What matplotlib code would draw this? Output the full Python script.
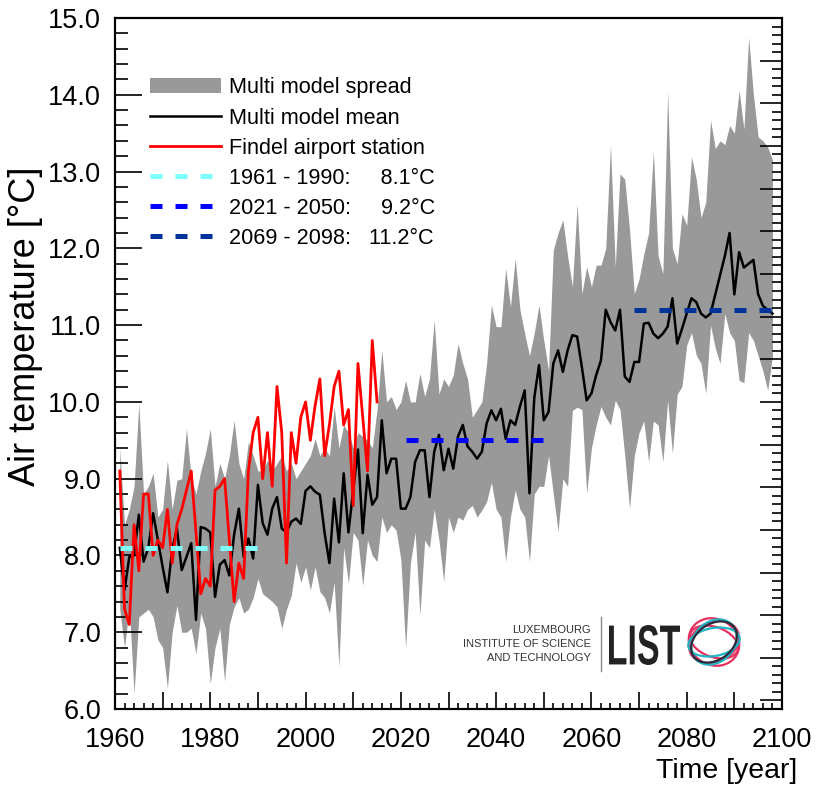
import matplotlib.pyplot as plt
import matplotlib.transforms as mtransforms
from matplotlib import font_manager
from matplotlib.font_manager import FontProperties
from matplotlib.lines import Line2D
from matplotlib.patches import Patch, Ellipse, PathPatch
from matplotlib.textpath import TextPath
from matplotlib.ticker import MultipleLocator, FuncFormatter

# multi model ensemble, annual mean air temperature (deg C)
years = list(range(1961, 2099))
model_mean = [
    8.10, 7.55, 7.98, 8.00, 8.53, 7.92, 8.10, 8.55, 8.20, 7.85,
    7.52, 8.08, 8.35, 7.81, 7.98, 8.16, 7.16, 8.37, 8.35, 8.30,
    7.46, 7.88, 7.94, 7.74, 8.27, 8.61, 7.98, 8.22, 7.96, 8.92,
    8.42, 8.27, 8.61, 8.76, 8.35, 8.30, 8.44, 8.48, 8.41, 8.84,
    8.90, 8.83, 8.79, 8.29, 7.90, 8.74, 8.17, 9.07, 8.30, 8.85,
    9.38, 8.29, 9.05, 8.66, 8.76, 9.76, 9.07, 9.26, 9.26, 8.61,
    8.61, 8.76, 9.22, 9.37, 9.37, 8.76, 9.35, 9.57, 9.11, 9.39,
    9.13, 9.55, 9.70, 9.42, 9.35, 9.26, 9.35, 9.72, 9.89, 9.76,
    9.91, 9.52, 9.76, 9.70, 9.94, 10.15, 8.81, 10.05, 10.48, 9.76,
    9.87, 10.50, 10.67, 10.39, 10.67, 10.87, 10.85, 10.45, 10.02, 10.11,
    10.35, 10.54, 11.20, 11.04, 10.93, 11.20, 10.33, 10.26, 10.52, 10.52,
    11.02, 11.03, 10.89, 10.83, 10.89, 10.98, 11.35, 10.76, 10.95, 11.15,
    11.35, 11.30, 11.15, 11.10, 11.15, 11.40, 11.65, 11.90, 12.20, 11.40,
    11.95, 11.75, 11.80, 11.85, 11.40, 11.25, 11.20, 11.15,
]
model_max = [
    9.40, 8.40, 8.60, 8.90, 9.98, 8.80, 8.90, 9.07, 8.50, 8.60,
    9.24, 8.60, 8.98, 9.00, 9.65, 9.00, 8.80, 9.10, 9.33, 9.65,
    8.90, 9.20, 9.00, 9.30, 9.76, 9.20, 9.00, 9.48, 9.30, 9.10,
    9.10, 9.24, 9.10, 9.20, 9.30, 9.10, 9.20, 9.00, 9.10, 9.20,
    9.30, 9.52, 9.30, 9.40, 9.30, 9.94, 9.40, 9.70, 9.60, 9.40,
    9.60, 9.55, 9.50, 9.40, 9.90, 10.67, 10.00, 10.07, 9.90, 10.00,
    10.28, 10.00, 10.00, 10.37, 10.07, 10.30, 11.07, 10.10, 10.30, 10.20,
    10.35, 10.76, 10.50, 10.30, 9.80, 9.90, 10.00, 10.50, 11.26, 10.98,
    10.98, 11.74, 11.24, 11.87, 11.20, 10.89, 10.60, 10.90, 11.26, 10.80,
    10.41, 11.98, 12.20, 12.37, 11.90, 11.50, 12.58, 11.41, 11.76, 11.50,
    11.78, 11.78, 12.00, 13.34, 11.76, 12.97, 12.90, 12.24, 11.41, 11.60,
    11.93, 12.20, 13.26, 11.90, 11.67, 14.04, 12.00, 11.80, 12.45, 12.30,
    13.19, 12.90, 12.40, 12.60, 13.67, 13.30, 13.40, 13.35, 13.60, 13.50,
    14.06, 13.55, 14.75, 14.00, 13.45, 13.40, 13.32, 13.15,
]
model_min = [
    7.30, 6.80, 7.33, 6.20, 7.20, 7.25, 7.30, 7.20, 6.90, 6.80,
    6.27, 7.00, 7.35, 7.00, 7.00, 7.05, 6.72, 7.25, 7.05, 6.33,
    6.80, 7.05, 6.36, 7.10, 7.33, 7.45, 7.25, 7.30, 7.45, 7.70,
    7.50, 7.45, 7.40, 7.33, 7.05, 7.30, 7.48, 7.90, 7.65, 7.85,
    7.55, 7.85, 7.53, 7.45, 7.25, 7.65, 6.55, 8.10, 7.64, 8.30,
    8.20, 7.61, 8.20, 8.00, 7.92, 8.50, 8.30, 8.40, 8.33, 7.95,
    6.79, 7.90, 8.30, 7.22, 8.20, 8.10, 8.60, 8.20, 7.66, 8.50,
    8.30, 8.50, 8.46, 8.60, 8.65, 8.50, 8.59, 8.70, 8.95, 8.60,
    8.50, 7.92, 8.50, 8.85, 8.60, 8.50, 7.92, 8.80, 8.90, 8.90,
    9.30, 8.80, 8.31, 9.00, 8.90, 9.89, 9.93, 9.90, 8.81, 9.40,
    9.70, 9.94, 9.80, 9.70, 10.02, 9.90, 9.30, 8.61, 9.30, 9.60,
    9.75, 9.22, 9.75, 9.70, 9.22, 10.02, 9.33, 10.10, 10.20, 10.74,
    10.90, 10.61, 10.50, 10.11, 11.00, 10.70, 10.50, 11.15, 10.90, 10.80,
    10.28, 10.25, 10.90, 10.80, 10.60, 10.40, 10.15, 10.60,
]

# Findel airport observations
station_years = list(range(1961, 2016))
station = [
    9.10, 7.30, 7.10, 8.40, 7.80, 8.80, 8.80, 8.00, 8.20, 8.10,
    8.60, 7.90, 8.40, 8.60, 8.85, 9.10, 8.30, 7.50, 7.70, 7.60,
    8.85, 8.90, 9.00, 8.20, 7.40, 7.90, 7.70, 9.10, 9.60, 9.80,
    9.00, 9.60, 8.90, 10.20, 9.60, 7.90, 9.60, 9.20, 9.80, 10.00,
    9.50, 9.95, 10.30, 9.30, 9.70, 10.20, 10.40, 9.70, 9.90, 8.65,
    10.50, 9.80, 9.10, 10.80, 10.00,
]

# 30 year period means
period_start = [1961, 2021, 2069]
period_end = [1990, 2050, 2099]
period_value = [8.1, 9.5, 11.2]
period_labels = ['1961 - 1990:     8.1\u00b0C',
                 '2021 - 2050:     9.2\u00b0C',
                 '2069 - 2098:   11.2\u00b0C']
period_colors = ['#80ffff', '#0000ff', '#003399']

W, H = 817, 787

installed = {f.name for f in font_manager.fontManager.ttflist}
narrow = 'Liberation Sans Narrow' if 'Liberation Sans Narrow' in installed else 'Liberation Sans'
plt.rcParams['font.family'] = narrow

fig = plt.figure(figsize=(W / 100, H / 100), dpi=100)
ax = fig.add_axes([115 / W, 78 / H, 667 / W, 691 / H])

ax.fill_between(years, model_min, model_max, color='#999999', lw=0)
ax.plot(years, model_mean, color='black', lw=1.8)
ax.plot(station_years, station, color='red', lw=2.0)
for a, b, v, c in zip(period_start, period_end, period_value, period_colors):
    ax.plot([a, b], [v, v], color=c, lw=3.6, dashes=(2.4, 2.6))

ax.set_xlim(1960, 2100)
ax.set_ylim(6, 15)
ax.xaxis.set_major_locator(MultipleLocator(10))
ax.xaxis.set_minor_locator(MultipleLocator(2))
ax.xaxis.set_major_formatter(FuncFormatter(lambda v, p: f'{v:.0f}' if round(v) % 20 == 0 else ''))
ax.yaxis.set_major_locator(MultipleLocator(1))
ax.yaxis.set_minor_locator(MultipleLocator(0.2))
ax.yaxis.set_major_formatter(FuncFormatter(lambda v, p: f'{v:.1f}'))
ax.tick_params(which='both', direction='in', labelsize=19.5, width=1.2)
ax.tick_params(axis='y', which='major', length=19.5, pad=10)
ax.tick_params(axis='y', which='minor', length=9.5)
ax.tick_params(axis='x', which='major', length=12, pad=13)
ax.tick_params(axis='x', which='minor', length=4.5)
for s in ax.spines.values():
    s.set_linewidth(1.5)

# right axis in deg F, ticks only
ax2 = ax.twinx()
ax2.set_ylim(6 * 1.8 + 32, 15 * 1.8 + 32)
ax2.yaxis.set_major_locator(MultipleLocator(1))
ax2.yaxis.set_minor_locator(MultipleLocator(0.2))
ax2.tick_params(which='both', direction='in', labelright=False, width=1.2)
ax2.tick_params(which='major', length=16)
ax2.tick_params(which='minor', length=7)
for s in ax2.spines.values():
    s.set_linewidth(1.5)

handles = [Patch(facecolor='#999999', edgecolor='none'),
           Line2D([], [], color='black', lw=1.8),
           Line2D([], [], color='red', lw=2.0)]
handles += [Line2D([], [], color=c, lw=3.6, dashes=(2.4, 2.6)) for c in period_colors]
labels = ['Multi model spread', 'Multi model mean', 'Findel airport station'] + period_labels
ax.legend(handles, labels, loc='upper left', bbox_to_anchor=(0.052, 0.914),
          frameon=False, fontsize=15.6, handlelength=3.3, handletextpad=0.37,
          labelspacing=0.42, borderpad=0, borderaxespad=0)

fig.text(26 / W, 1 - 326 / H, 'Air temperature [\u00b0C]', rotation=90,
         ha='center', va='center', fontsize=26, family='Liberation Sans')
fig.text(797 / W, 1 - 771 / H, 'Time [year]', ha='right', va='center', fontsize=20.5)

# LIST logo
for i, t in enumerate(['LUXEMBOURG', 'INSTITUTE OF SCIENCE', 'AND TECHNOLOGY']):
    fig.text(591 / W, 1 - (630 + 14 * i) / H, t, ha='right', va='center',
             fontsize=8, color='#333333')
fig.add_artist(Line2D([601 / W, 601 / W], [1 - 617 / H, 1 - 671 / H],
                      transform=fig.transFigure, color='#888888', lw=1))
tp = TextPath((0, 0), 'LIST', size=50, prop=FontProperties(family=narrow, weight='bold'))
bb = tp.get_extents()
tr = mtransforms.Affine2D().translate(-bb.x0, -bb.y0).scale(71 / bb.width, 40 / bb.height)
tr = tr.translate(609, H - 665)
fig.add_artist(PathPatch(tp, transform=tr, facecolor='#222222', lw=0))
ident = mtransforms.IdentityTransform()
rings = [(52, 40, 25, '#e8305f'), (50, 30, -20, '#e8305f'), (46, 52, 60, '#e8305f'),
         (52, 28, 10, '#1fb5c4'), (40, 50, -45, '#1fb5c4'), (50, 36, 35, '#2b2b3a')]
for w, h, ang, col in rings:
    fig.add_artist(Ellipse((714, H - 642), w, h, angle=ang, transform=ident,
                           fill=False, edgecolor=col, lw=1.6))

fig.savefig('out.png', dpi=100)
